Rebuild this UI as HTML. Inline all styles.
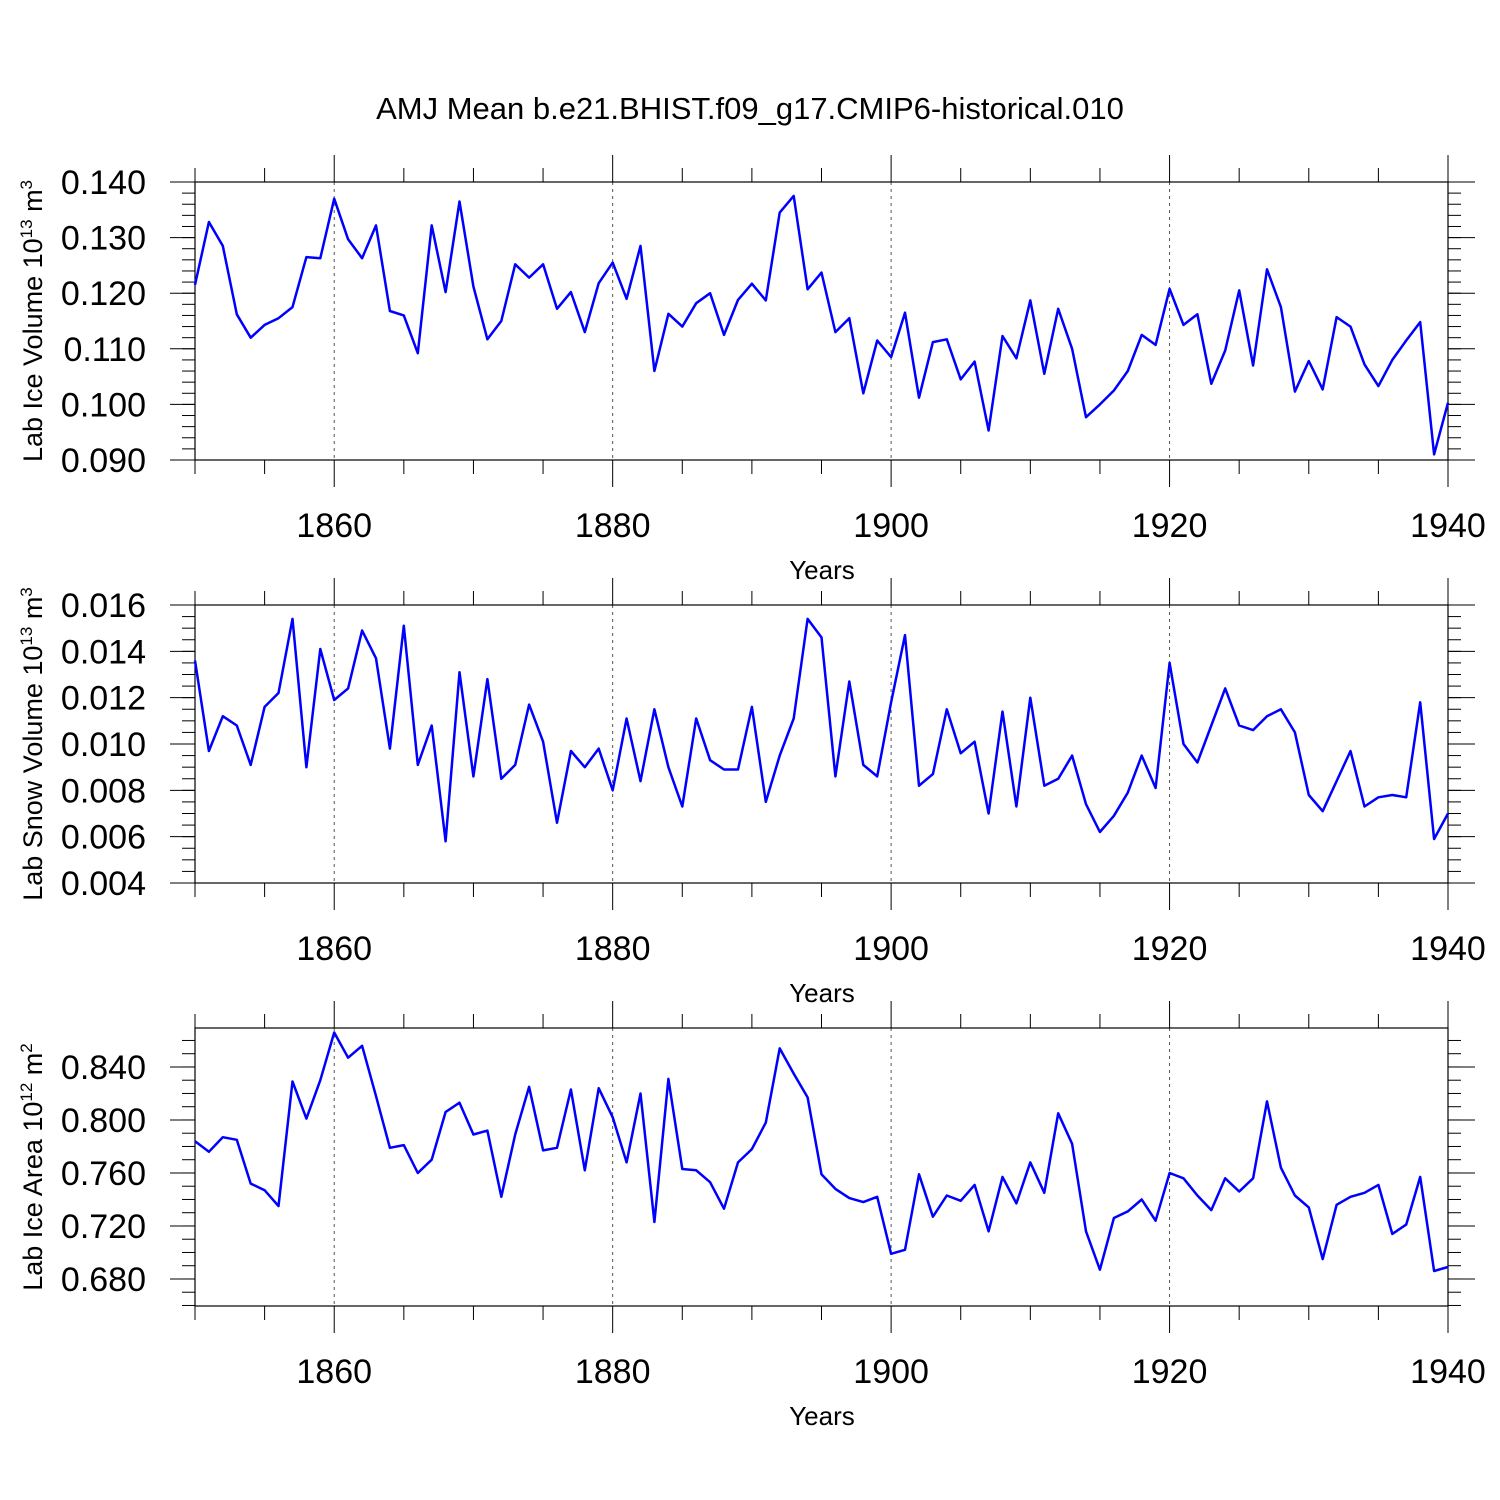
<!DOCTYPE html>
<html><head><meta charset="utf-8"><style>
html,body{margin:0;padding:0;background:#fff;}
svg{display:block;font-family:"Liberation Sans",sans-serif;}
</style></head><body>
<svg id="chart" width="1500" height="1500" viewBox="0 0 1500 1500">
<text x="750" y="119" font-size="31" text-anchor="middle">AMJ Mean b.e21.BHIST.f09_g17.CMIP6-historical.010</text>
</svg>
<script>
const years = [];
for (let y = 1850; y <= 1940; y++) years.push(y);
const iceVolume = [0.1215,0.1328,0.1285,0.1162,0.1120,0.1143,0.1155,0.1175,0.1265,0.1263,0.1370,0.1297,0.1263,0.1322,0.1168,0.1160,0.1092,0.1322,0.1202,0.1365,0.1212,0.1117,0.1150,0.1252,0.1228,0.1252,0.1172,0.1202,0.1130,0.1218,0.1255,0.1190,0.1285,0.1060,0.1163,0.1140,0.1182,0.1200,0.1125,0.1188,0.1217,0.1187,0.1345,0.1375,0.1207,0.1237,0.1130,0.1155,0.1020,0.1115,0.1085,0.1165,0.1012,0.1112,0.1117,0.1045,0.1077,0.0953,0.1123,0.1083,0.1187,0.1055,0.1172,0.1100,0.0977,0.1000,0.1025,0.1060,0.1125,0.1107,0.1208,0.1143,0.1162,0.1037,0.1097,0.1205,0.1070,0.1243,0.1175,0.1023,0.1078,0.1027,0.1157,0.1140,0.1072,0.1033,0.1080,0.1115,0.1148,0.0910,0.1003];
const snowVolume = [0.0136,0.0097,0.0112,0.0108,0.0091,0.0116,0.0122,0.0154,0.0090,0.0141,0.0119,0.0124,0.0149,0.0137,0.0098,0.0151,0.0091,0.0108,0.0058,0.0131,0.0086,0.0128,0.0085,0.0091,0.0117,0.0101,0.0066,0.0097,0.0090,0.0098,0.0080,0.0111,0.0084,0.0115,0.0090,0.0073,0.0111,0.0093,0.0089,0.0089,0.0116,0.0075,0.0095,0.0111,0.0154,0.0146,0.0086,0.0127,0.0091,0.0086,0.0118,0.0147,0.0082,0.0087,0.0115,0.0096,0.0101,0.0070,0.0114,0.0073,0.0120,0.0082,0.0085,0.0095,0.0074,0.0062,0.0069,0.0079,0.0095,0.0081,0.0135,0.0100,0.0092,0.0108,0.0124,0.0108,0.0106,0.0112,0.0115,0.0105,0.0078,0.0071,0.0084,0.0097,0.0073,0.0077,0.0078,0.0077,0.0118,0.0059,0.0070];
const iceArea = [0.784,0.776,0.787,0.785,0.752,0.747,0.735,0.829,0.801,0.830,0.866,0.847,0.856,0.818,0.779,0.781,0.760,0.770,0.806,0.813,0.789,0.792,0.742,0.789,0.825,0.777,0.779,0.823,0.762,0.824,0.802,0.768,0.820,0.723,0.831,0.763,0.762,0.753,0.733,0.768,0.778,0.798,0.854,0.835,0.817,0.759,0.748,0.741,0.738,0.742,0.699,0.702,0.759,0.727,0.743,0.739,0.751,0.716,0.757,0.737,0.768,0.745,0.805,0.782,0.716,0.687,0.726,0.731,0.740,0.724,0.760,0.756,0.743,0.732,0.756,0.746,0.756,0.814,0.764,0.743,0.734,0.695,0.736,0.742,0.745,0.751,0.714,0.721,0.757,0.686,0.689];
const xTickLabels = [1860,1880,1900,1920,1940];
const iceVolTicks = [0.090,0.100,0.110,0.120,0.130,0.140];
const snowTicks = [0.004,0.006,0.008,0.010,0.012,0.014,0.016];
const areaTicks = [0.680,0.720,0.760,0.800,0.840];

const svg = document.getElementById('chart');
const NS = 'http://www.w3.org/2000/svg';
function mk(tag, attrs, parent) {
  const e = document.createElementNS(NS, tag);
  for (const k in attrs) e.setAttribute(k, attrs[k]);
  (parent || svg).appendChild(e);
  return e;
}
const X0 = 195, X1 = 1448;
const xScale = yr => X0 + (yr - 1850) / 90 * (X1 - X0);

const panels = [
  {name:'ice-volume', top:182, bot:460, ymin:0.090, ymax:0.140, ticks:iceVolTicks, minor:0.002, dec:3, data:iceVolume, label:'Lab Ice Volume 10', sup:'13', unit:' m', usup:'3'},
  {name:'snow-volume', top:605, bot:883, ymin:0.004, ymax:0.016, ticks:snowTicks, minor:0.0005, dec:3, data:snowVolume, label:'Lab Snow Volume 10', sup:'13', unit:' m', usup:'3'},
  {name:'ice-area', top:1028, bot:1306, ymin:0.6596, ymax:0.8694, ticks:areaTicks, minor:0.01, dec:3, data:iceArea, label:'Lab Ice Area 10', sup:'12', unit:' m', usup:'2'}
];

panels.forEach(p => {
  const g = mk('g', {});
  
  
  const yScale = v => p.bot - (v - p.ymin) / (p.ymax - p.ymin) * (p.bot - p.top);
  xTickLabels.slice(0, 4).forEach(yr => {
    const l = mk('line', {x1:xScale(yr), x2:xScale(yr), y1:p.top, y2:p.bot, stroke:'#555', 'stroke-width':1, 'stroke-dasharray':'3,4'}, g);
    
    
  });
  const fr = mk('rect', {x:X0, y:p.top, width:X1-X0, height:p.bot-p.top, fill:'none', stroke:'#000', 'stroke-width':1.2}, g);
  
  
  for (let yr = 1850; yr <= 1940; yr += 5) {
    const len = yr % 20 === 0 ? 27 : 14;
    mk('line', {x1:xScale(yr), x2:xScale(yr), y1:p.top, y2:p.top-len, stroke:'#000', 'stroke-width':1}, g);
    mk('line', {x1:xScale(yr), x2:xScale(yr), y1:p.bot, y2:p.bot+len, stroke:'#000', 'stroke-width':1}, g);
  }
  xTickLabels.forEach(yr => {
    const t = mk('text', {x:xScale(yr), y:p.bot+77, 'font-size':34, 'text-anchor':'middle'}, g);
    t.textContent = yr;
    
    
  });
  const xt = mk('text', {x:822, y:p.bot+119, 'font-size':26, 'text-anchor':'middle'}, g);
  xt.textContent = 'Years';
  
  
  const nMin = Math.round((p.ymax - p.ymin) / p.minor) + 2;
  const start = Math.ceil(p.ymin / p.minor - 1e-6) * p.minor;
  for (let i = 0; i < nMin; i++) {
    const v = start + i * p.minor;
    if (v > p.ymax + 1e-9) break;
    const y = yScale(v);
    mk('line', {x1:X0, x2:X0-13, y1:y, y2:y, stroke:'#000', 'stroke-width':1}, g);
    mk('line', {x1:X1, x2:X1+13, y1:y, y2:y, stroke:'#000', 'stroke-width':1}, g);
  }
  p.ticks.forEach(v => {
    const y = yScale(v);
    mk('line', {x1:X0, x2:X0-25, y1:y, y2:y, stroke:'#000', 'stroke-width':1}, g);
    mk('line', {x1:X1, x2:X1+27, y1:y, y2:y, stroke:'#000', 'stroke-width':1}, g);
    const t = mk('text', {x:146, y:y+12, 'font-size':34, 'text-anchor':'end'}, g);
    t.textContent = v.toFixed(p.dec);
    
    
  });
  const cy = (p.top + p.bot) / 2;
  const yt = mk('text', {x:0, y:0, 'font-size':27, 'text-anchor':'middle', transform:`translate(42,${cy}) rotate(-90)`}, g);
  
  
  const a = mk('tspan', {}, yt); a.textContent = p.label;
  const b = mk('tspan', {dy:-10, 'font-size':17}, yt); b.textContent = p.sup;
  const c = mk('tspan', {dy:10}, yt); c.textContent = p.unit;
  const d = mk('tspan', {dy:-10, 'font-size':17}, yt); d.textContent = p.usup;
  const pts = p.data.map((v, i) => xScale(years[i]).toFixed(1) + ',' + yScale(v).toFixed(1)).join(' ');
  const line = mk('polyline', {points:pts, fill:'none', stroke:'#0000ff', 'stroke-width':2.5, 'stroke-linejoin':'round'}, g);
  
  
});
</script>
</body></html>
